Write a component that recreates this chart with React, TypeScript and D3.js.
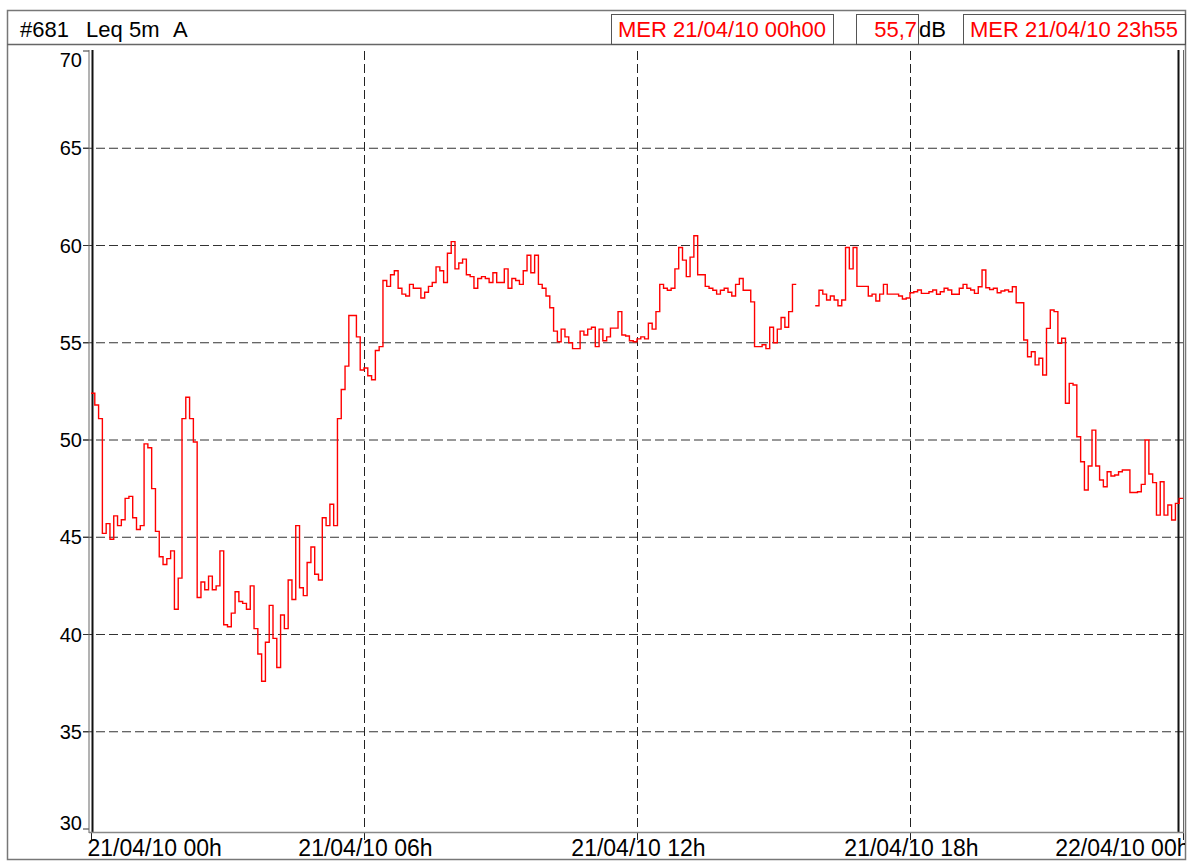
import React from "react";
import * as d3 from "d3";

// ---- data ----
const startTime = new Date(2010, 3, 21, 0, 0);
const endTime = new Date(2010, 3, 22, 0, 0);
const stepMinutes = 5;

// Leq 5 min, dB(A); null = no measurement
const leqValues: (number | null)[] = [
  52.4, 51.8, 51.1, 45.2, 45.7, 44.9, 46.1, 45.6, 45.9, 47.0,
  47.1, 46.0, 45.4, 45.6, 49.8, 49.6, 47.5, 45.3, 44.0, 43.6,
  43.9, 44.3, 41.3, 42.9, 51.1, 52.2, 51.1, 49.9, 41.9, 42.7,
  42.3, 43.0, 42.3, 42.5, 44.3, 40.5, 40.4, 41.1, 42.2, 41.7,
  41.6, 41.3, 42.5, 40.3, 39.0, 37.6, 39.6, 41.5, 39.8, 38.3,
  41.0, 40.3, 42.8, 41.8, 45.6, 42.4, 42.0, 43.7, 44.5, 43.1,
  42.8, 46.0, 45.6, 46.7, 45.6, 51.1, 52.6, 53.8, 56.4, 56.4,
  55.3, 53.6, 53.7, 53.3, 53.1, 54.6, 54.8, 58.2, 57.9, 58.5,
  58.7, 57.8, 57.5, 57.4, 58.0, 57.8, 57.8, 57.3, 57.6, 57.9,
  58.1, 58.9, 58.7, 58.1, 59.6, 60.2, 58.8, 59.1, 59.3, 58.5,
  58.4, 57.8, 58.3, 58.4, 58.3, 58.1, 58.6, 58.1, 58.1, 58.8,
  57.8, 58.3, 58.2, 58.0, 58.7, 59.5, 58.6, 59.5, 58.0, 57.8,
  57.4, 56.8, 55.6, 55.05, 55.7, 55.3, 55.0, 54.7, 54.7, 55.6,
  55.4, 55.7, 55.8, 54.8, 55.7, 55.1, 55.3, 55.75, 55.75, 56.6,
  55.4, 55.35, 55.1, 55.05, 55.2, 55.3, 55.2, 56.0, 55.7, 56.6,
  58.0, 57.8, 57.7, 57.8, 58.8, 59.9, 59.25, 58.4, 59.4, 60.5,
  58.5, 58.5, 57.9, 57.8, 57.7, 57.5, 57.7, 57.8, 57.6, 57.4,
  58.0, 58.3, 57.7, 57.7, 57.1, 54.8, 54.8, 54.9, 54.7, 55.8,
  55.0, 55.7, 56.3, 55.8, 56.6, 58.0, null, null, null, null,
  null, 56.9, 57.7, 57.5, 57.2, 57.4, 57.2, 56.9, 57.2, 59.9,
  58.8, 59.9, 57.9, 57.9, 57.9, 57.4, 57.5, 57.15, 57.5, 58.0,
  57.5, 57.5, 57.5, 57.4, 57.25, 57.3, 57.57, 57.62, 57.71, 57.54,
  57.54, 57.62, 57.71, 57.49, 57.62, 57.8, 57.71, 57.49, 57.49, 57.8,
  58.0, 57.8, 57.71, 57.54, 57.88, 58.74, 57.83, 57.74, 57.8, 57.57,
  57.66, 57.71, 57.62, 57.88, 57.06, 57.06, 55.14, 54.28, 54.54, 53.86,
  54.2, 53.34, 55.74, 56.68, 56.6, 54.97, 55.23, 51.89, 52.91, 52.83,
  50.17, 48.88, 47.43, 48.66, 50.51, 48.66, 47.94, 47.6, 48.37, 48.15,
  48.2, 48.37, 48.46, 48.46, 47.3, 47.3, 47.34, 47.72, 50.0, 48.25,
  47.81, 46.14, 47.85, 46.14, 46.66, 45.89, 46.74, 47.0,
];

const yTicks = [30, 35, 40, 45, 50, 55, 60, 65, 70];
const xTickHours = [0, 6, 12, 18, 24];

const headerTitle = ["#681", "Leq", "5m", "A"];
const headerStart = "MER 21/04/10 00h00";
const headerValue = "55,7";
const headerUnit = "dB";
const headerEnd = "MER 21/04/10 23h55";

const FONT = "'Liberation Sans', Arial, Helvetica, sans-serif";

export default function App() {
  const W = 1188;
  const H = 862;
  const plotLeft = 91;
  const plotRight = 1183;
  const plotTop = 51;
  const plotBottom = 829;

  const x = d3.scaleTime().domain([startTime, endTime]).range([plotLeft, plotRight]);
  const y = d3.scaleLinear().domain([30, 70]).range([plotBottom, plotTop]);
  const tAt = (i: number) => d3.timeMinute.offset(startTime, i * stepMinutes);
  const fmt = d3.timeFormat("%d/%m/%y %Hh");

  // build runs of defined values, each extended one step to the right
  const runs: [Date, number][][] = [];
  let cur: [Date, number][] | null = null;
  leqValues.forEach((v, i) => {
    if (v == null) {
      if (cur) {
        const last = cur[cur.length - 1];
        cur.push([tAt(i), last[1]]);
        runs.push(cur);
        cur = null;
      }
    } else {
      if (!cur) cur = [];
      cur.push([tAt(i), v]);
    }
  });
  if (cur) {
    const c = cur as [Date, number][];
    c.push([tAt(leqValues.length), c[c.length - 1][1]]);
    runs.push(c);
  }
  const line = d3
    .line<[Date, number]>()
    .x((d) => x(d[0]))
    .y((d) => y(d[1]))
    .curve(d3.curveStepAfter);

  const hourTicks = xTickHours.map((h) => d3.timeHour.offset(startTime, h));

  return (
    <svg
      width={W}
      height={H}
      style={{ position: "absolute", left: 0, top: 0, background: "#fff" }}
      fontFamily={FONT}
    >
      <defs>
        <clipPath id="frameClip">
          <rect x={8} y={11} width={1177} height={848} />
        </clipPath>
      </defs>
      <rect x={0} y={0} width={W} height={H} fill="#fff" />
      {/* outer frame */}
      <rect x={7.5} y={10.5} width={1178} height={849} fill="none" stroke="#777" strokeWidth={1.5} />
      {/* header bottom */}
      <line x1={7} x2={1186} y1={44.5} y2={44.5} stroke="#666" strokeWidth={1.5} />

      {/* header texts */}
      <g fontSize={22} fill="#000">
        <text x={20} y={37}>{headerTitle[0]}</text>
        <text x={86} y={37}>{headerTitle[1]}</text>
        <text x={129} y={37}>{headerTitle[2]}</text>
        <text x={173} y={37}>{headerTitle[3]}</text>
      </g>
      <rect x={611.5} y={14.5} width={222} height={30} fill="none" stroke="#555" strokeWidth={1} />
      <text x={618} y={37} fontSize={22} fill="#ff0000">{headerStart}</text>
      <rect x={856.5} y={14.5} width={62} height={30} fill="none" stroke="#555" strokeWidth={1} />
      <text x={917} y={37} fontSize={22} fill="#ff0000" textAnchor="end">{headerValue}</text>
      <text x={919} y={37} fontSize={22} fill="#000">{headerUnit}</text>
      <rect x={963.5} y={14.5} width={222} height={30} fill="none" stroke="#555" strokeWidth={1} />
      <text x={970} y={37} fontSize={22} fill="#ff0000">{headerEnd}</text>

      {/* horizontal grid + y ticks */}
      {yTicks.map((t) => (
        <g key={"y" + t}>
          {t !== 30 && t !== 70 && (
            <line
              x1={83}
              x2={plotRight}
              y1={y(t)}
              y2={y(t)}
              stroke="#333"
              strokeWidth={1}
              strokeDasharray="9 4"
            />
          )}
          <line x1={83} x2={89} y1={y(t)} y2={y(t)} stroke="#333" strokeWidth={1} />
          <text
            x={82}
            y={t === 70 ? y(t) + 16 : t === 30 ? y(t) + 1 : y(t) + 7}
            fontSize={20}
            textAnchor="end"
            fill="#000"
          >
            {t}
          </text>
        </g>
      ))}

      {/* vertical grid + x ticks */}
      {hourTicks.map((d, i) => {
        const xx = Math.round(x(d)) + 0.5;
        const isEdge = i === 0 || i === hourTicks.length - 1;
        const anchor = i === 0 ? "start" : i === hourTicks.length - 1 ? "end" : "middle";
        const tx = i === 0 ? xx - 4 : i === hourTicks.length - 1 ? xx + 6 : xx + 1;
        return (
          <g key={"x" + i}>
            {!isEdge && (
              <line
                x1={xx}
                x2={xx}
                y1={plotTop}
                y2={plotBottom}
                stroke="#222"
                strokeWidth={1}
                strokeDasharray="9 4"
              />
            )}
            <line x1={xx} x2={xx} y1={833} y2={840} stroke="#222" strokeWidth={1} />
            <text
              x={tx}
              y={856}
              fontSize={23}
              textAnchor={anchor}
              fill="#000"
              clipPath="url(#frameClip)"
            >
              {fmt(d)}
            </text>
          </g>
        );
      })}

      {/* axes lines */}
      <line x1={89} x2={89} y1={50} y2={833} stroke="#666" strokeWidth={1} />
      <line x1={92.5} x2={92.5} y1={50} y2={833} stroke="#111" strokeWidth={2} />
      <line x1={1178.5} x2={1178.5} y1={50} y2={833} stroke="#111" strokeWidth={2} />
      <line x1={1183.5} x2={1183.5} y1={50} y2={833} stroke="#666" strokeWidth={1} />
      <line x1={89} x2={1184} y1={832.5} y2={832.5} stroke="#888" strokeWidth={1.5} />

      {/* data */}
      {runs.map((r, i) => (
        <path key={"run" + i} d={line(r) || ""} fill="none" stroke="#ff0000" strokeWidth={1.4} />
      ))}
    </svg>
  );
}
